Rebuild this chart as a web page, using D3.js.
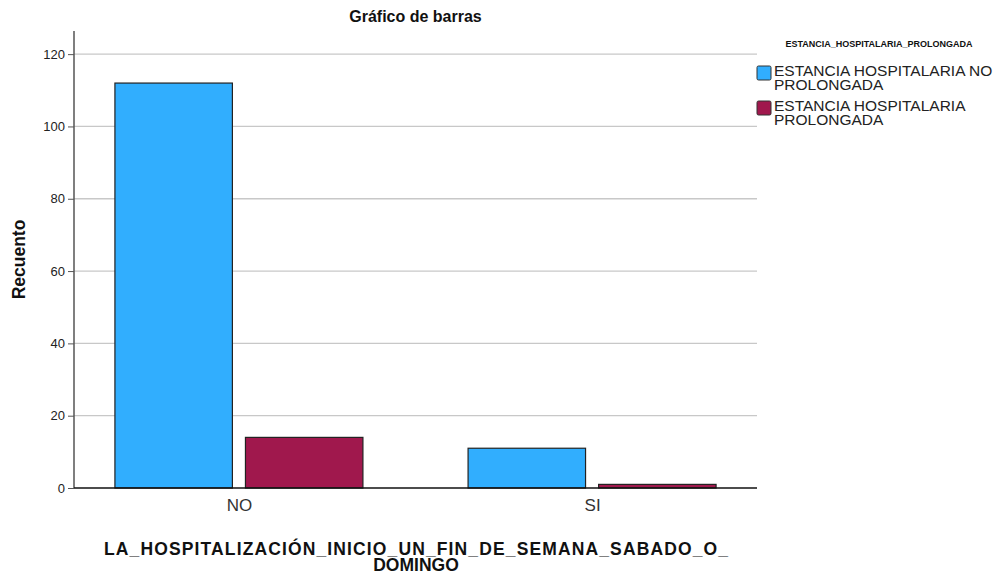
<!DOCTYPE html>
<html lang="es">
<head>
<meta charset="UTF-8">
<title>Gráfico de barras</title>
<script src="https://cdn.jsdelivr.net/npm/d3@7"></script>
<style>
  body { margin: 0; background: #fff; font-family: 'Liberation Sans', Arial, sans-serif; }
  .grid line { stroke: #c8c8c8; stroke-width: 1.3px; }
  .bar { stroke: #222; stroke-width: 1.2px; }
</style>
</head>
<body>
<svg id="chart" width="1000" height="575"></svg>
<script>
// data
var categories = ['NO', 'SI'];
var seriesNames = ['ESTANCIA HOSPITALARIA NO PROLONGADA', 'ESTANCIA HOSPITALARIA PROLONGADA'];
var noProlongada = [112, 11];
var prolongada = [14, 1];
var yTicks = [0, 20, 40, 60, 80, 100, 120];
var colors = ['#31aefe', '#a0184d'];

var plotL = 74, plotR = 757, plotT = 31, plotB = 488;
var svg = d3.select('#chart');

var y = d3.scaleLinear().domain([0, 126.4]).range([plotB, plotT]);
var x = d3.scalePoint().domain(categories).range([plotL, plotR]).padding(0.467);
var xs = d3.scaleBand().domain([0, 1]).range([-124, 124]).paddingInner(0.1);

// gridlines
svg.append('g').attr('class', 'grid')
  .selectAll('line').data(yTicks.filter(d => d > 0)).enter()
  .append('line')
  .attr('x1', plotL).attr('x2', plotR)
  .attr('y1', d => y(d)).attr('y2', d => y(d));

// y axis
var yAxis = svg.append('g')
  .attr('transform', 'translate(' + plotL + ',0)')
  .call(d3.axisLeft(y).tickValues(yTicks).tickSize(6).tickPadding(3));
yAxis.select('.domain').attr('d', 'M0,' + plotT + 'V' + plotB).attr('stroke', '#555').attr('stroke-width', 1.5);
yAxis.selectAll('.tick line').attr('stroke', '#555');
yAxis.selectAll('.tick text').attr('font-size', 13).attr('fill', '#222')
  .attr('font-family', "'Liberation Sans', Arial, sans-serif");

// bars
var rows = categories.map((c, i) => ({ cat: c, vals: [noProlongada[i], prolongada[i]] }));
var groups = svg.selectAll('.grp').data(rows).enter().append('g')
  .attr('transform', d => 'translate(' + x(d.cat) + ',0)');
groups.selectAll('rect').data(d => d.vals.map((v, j) => ({ v: v, j: j }))).enter()
  .append('rect').attr('class', 'bar')
  .attr('x', d => xs(d.j))
  .attr('width', xs.bandwidth())
  .attr('y', d => y(d.v))
  .attr('height', d => y(0) - y(d.v))
  .attr('fill', d => colors[d.j]);

// x axis
var xAxis = svg.append('g')
  .attr('transform', 'translate(0,' + plotB + ')')
  .call(d3.axisBottom(x).tickSize(0).tickPadding(11));
xAxis.select('.domain').attr('d', 'M' + plotL + ',0H' + plotR).attr('stroke', '#111').attr('stroke-width', 1.5);
xAxis.selectAll('.tick text').attr('font-size', 17).attr('fill', '#333')
  .attr('font-family', "'Liberation Sans', Arial, sans-serif");

// title
svg.append('text').attr('x', (plotL + plotR) / 2).attr('y', 22)
  .attr('text-anchor', 'middle').attr('font-size', 16).attr('font-weight', 'bold').attr('fill', '#111')
  .text('Gráfico de barras');

// y title
svg.append('text').attr('transform', 'translate(25,' + (plotT + plotB) / 2 + ') rotate(-90)')
  .attr('text-anchor', 'middle').attr('font-size', 17.5).attr('font-weight', 'bold').attr('fill', '#111')
  .text('Recuento');

// x title
var xt = svg.append('text').attr('text-anchor', 'middle').attr('font-size', 17.5)
  .attr('font-weight', 'bold').attr('fill', '#111');
xt.append('tspan').attr('x', 416).attr('y', 555)
  .attr('textLength', 624).attr('lengthAdjust', 'spacing')
  .text('LA_HOSPITALIZACIÓN_INICIO_UN_FIN_DE_SEMANA_SABADO_O_');
xt.append('tspan').attr('x', 416).attr('y', 571).text('DOMINGO');

// legend
svg.append('text').attr('x', 879).attr('y', 47).attr('text-anchor', 'middle')
  .attr('font-size', 9).attr('font-weight', 'bold').attr('fill', '#111')
  .text('ESTANCIA_HOSPITALARIA_PROLONGADA');
var legLines = [['ESTANCIA HOSPITALARIA NO', 'PROLONGADA'], ['ESTANCIA HOSPITALARIA', 'PROLONGADA']];
var leg = svg.selectAll('.leg').data(seriesNames).enter().append('g')
  .attr('transform', (d, i) => 'translate(757,' + (66 + i * 35) + ')');
leg.append('rect').attr('x', 0).attr('y', 0).attr('width', 14).attr('height', 14)
  .attr('rx', 1.5).attr('fill', (d, i) => colors[i]).attr('stroke', '#333').attr('stroke-width', 1);
leg.each(function (d, i) {
  var t = d3.select(this).append('text').attr('font-size', 15.5).attr('fill', '#222');
  t.append('tspan').attr('x', 17).attr('y', 10).text(legLines[i][0]);
  t.append('tspan').attr('x', 17).attr('y', 24).text(legLines[i][1]);
});
</script>
</body>
</html>
